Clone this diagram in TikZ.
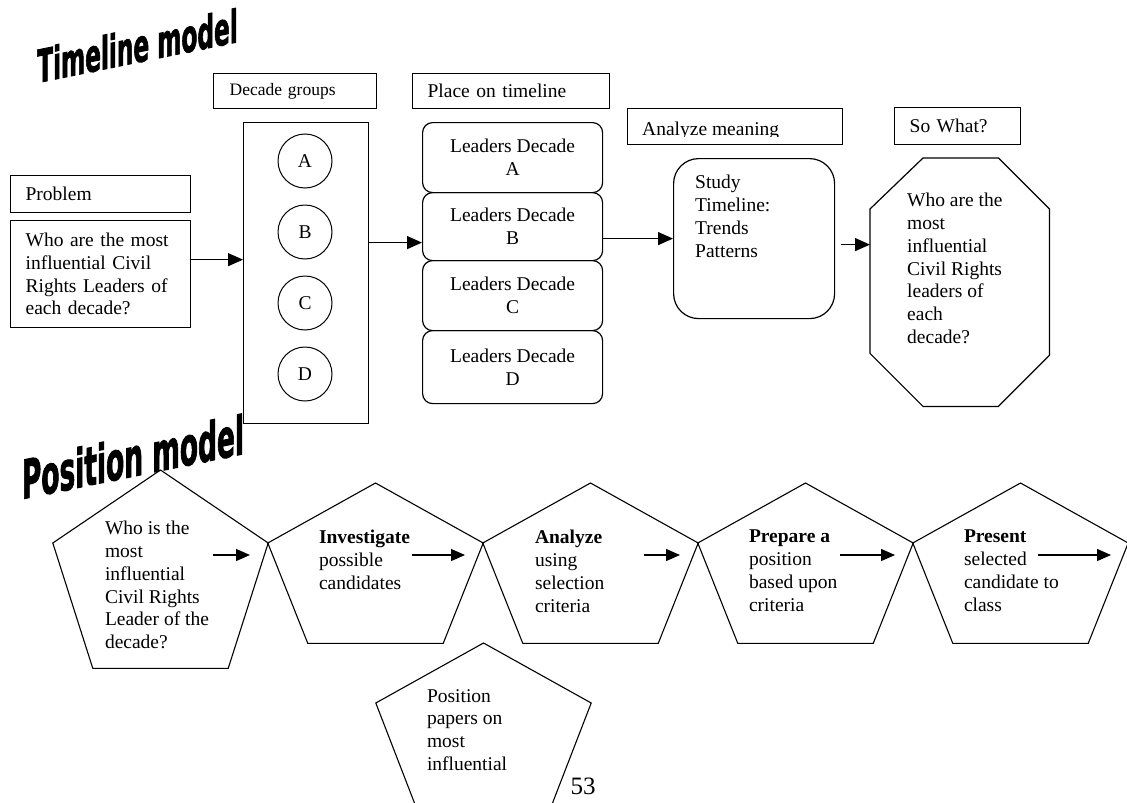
\documentclass[tikz,border=0pt]{standalone}
\usepackage{fontspec}
\setmainfont{Liberation Serif}
\newfontfamily\wordart{DejaVu Sans Condensed}[BoldFeatures={FakeBold=2}]
\usetikzlibrary{arrows.meta,calc}

% outline of a five-sided step: apex, side corners #2 below the apex, flat base
\newcommand{\pentoutline}[2]{%
  \draw[line width=1.1pt] (#1.north) -- ([yshift=-#2pt]#1.north east)
    -- ([xshift=-40pt]#1.south east) -- ([xshift=40pt]#1.south west)
    -- ([yshift=-#2pt]#1.north west) -- cycle;}

\begin{document}
\begin{tikzpicture}[x=1pt,y=-1pt,
  body/.style={font=\fontsize{19.5pt}{22.8pt}\selectfont},
  txt/.style={body,inner sep=0pt,align=left},
  labelbox/.style={draw,line width=1.3pt,body,align=left,inner xsep=15pt,inner ysep=0pt,anchor=north west},
  frame/.style={draw,line width=1.3pt,inner sep=0pt,anchor=north west},
  leader/.style={draw,line width=1.2pt,rounded corners=10pt,minimum width=180pt,inner sep=0pt,anchor=north west,body,align=center},
  letter/.style={draw,circle,line width=1pt,minimum size=54pt,inner sep=0pt,body},
  arr/.style={line width=1.3pt,-{Triangle[length=15pt,width=13pt]}},
  parr/.style={line width=1.3pt,-{Triangle[length=14pt,width=12pt]}},
  pent/.style={inner sep=0pt,minimum width=215pt,minimum height=160pt,anchor=north},
  title/.style={anchor=base,inner sep=0pt,yslant=0.204,transform shape},
]
\fill[white] (0,0) rectangle (1127,803);
\useasboundingbox (0,0) rectangle (1127,803);

% ---------- Timeline model ----------
\node[title,font=\wordart\bfseries\fontsize{45.3pt}{45.3pt}\selectfont] (ttimeline) at (137.5,62.5) {\scalebox{0.57}[1]{Timeline model}};

\node[labelbox,minimum width=180pt,minimum height=37pt,text width=150pt] (lblproblem) at (10,175) {Problem};
\node[labelbox,minimum width=180pt,minimum height=107pt,text width=150pt] (question) at (10,220)
  {Who are the most\\influential Civil\\Rights Leaders of\\each decade?};

\node[labelbox,minimum width=163pt,minimum height=35pt,text width=131pt,inner xsep=16pt,font=\fontsize{17.5pt}{21pt}\selectfont] (lblgroups) at (213,73) {Decade groups};
\node[frame,minimum width=125pt,minimum height=301pt] (groups) at (243,122) {};
\node[letter] (ca) at (305,161) {A};
\node[letter] (cb) at (305,232) {B};
\node[letter] (cc) at (305,303) {C};
\node[letter] (cd) at (305,374) {D};

\node[labelbox,minimum width=197pt,minimum height=35pt,text width=167pt] (lblplace) at (412,73) {Place on timeline};
\node[leader,minimum height=70pt] (lda) at (422,122) {Leaders Decade\\A};
\node[leader,minimum height=68pt] (ldb) at (422,192) {Leaders Decade\\B};
\node[leader,minimum height=70pt] (ldc) at (422,260) {Leaders Decade\\C};
\node[leader,minimum height=73pt] (ldd) at (422,330) {Leaders Decade\\D};

\node[frame,minimum width=215pt,minimum height=36pt] (lblanalyze) at (627,108) {};
\begin{scope}
  \clip ([xshift=1pt,yshift=-1pt]lblanalyze.north west) rectangle ([xshift=-1pt,yshift=9pt]lblanalyze.south east);
  \node[txt,anchor=base west] (analyzetxt) at ([xshift=15pt,yshift=10pt]lblanalyze.south west) {Analyze meaning};
\end{scope}
\node[draw,line width=1.2pt,rounded corners=25pt,minimum width=161pt,minimum height=160pt,anchor=north west,inner sep=0pt] (study) at (673,158) {};
\node[txt,anchor=north west] (studytxt) at ([xshift=22pt,yshift=-17pt]study.north west)
  {Study\\Timeline:\\Trends\\Patterns};

\node[labelbox,minimum width=126pt,minimum height=37pt,text width=96pt] (lblsowhat) at (894,107) {So What?};
\node[inner sep=0pt,minimum width=179pt,minimum height=248pt,anchor=north west] (oct) at (870,158) {};
\draw[line width=1.2pt] ([xshift=53pt]oct.north west) -- ([xshift=-51pt]oct.north east)
  -- ([yshift=-51pt]oct.north east) -- ([yshift=51pt]oct.south east)
  -- ([xshift=-51pt]oct.south east) -- ([xshift=53pt]oct.south west)
  -- ([yshift=53pt]oct.south west) -- ([yshift=-51pt]oct.north west) -- cycle;
\node[txt,anchor=north west] (octtxt) at ([xshift=37pt,yshift=-35pt]oct.north west)
  {Who are the\\most\\influential\\Civil Rights\\leaders of\\each\\decade?};

% connectors
\coordinate (qout) at ([yshift=14.5pt]question.east);
\draw[arr] (qout) -- (qout -| groups.west);
\coordinate (gin) at ([yshift=-16pt]ldb.west);
\draw[arr] (gin -| groups.east) -- (gin);
\draw[arr] (ldb.east |- study.west) -- (study.west);
\coordinate (sout) at ([xshift=6pt,yshift=-6pt]study.east);
\draw[arr] (sout) -- (sout -| oct.west);

% ---------- Position model ----------
\node[title,font=\wordart\bfseries\fontsize{53.5pt}{53.5pt}\selectfont] (tposition) at (133,476.5) {\scalebox{0.55}[1]{Position model}};

\node[pent,minimum height=198pt] (p1) at (160.5,470) {};
\pentoutline{p1}{73}
\node[pent] (p2) at (375.5,483) {};
\pentoutline{p2}{60}
\node[pent] (p3) at (590.5,483) {};
\pentoutline{p3}{60}
\node[pent] (p4) at (805.5,483) {};
\pentoutline{p4}{60}
\node[pent] (p5) at (1020.5,483) {};
\pentoutline{p5}{60}
\node[pent,minimum height=163pt] (p6) at (483.5,643) {};
\pentoutline{p6}{60}

\node[txt,anchor=north west] (t1) at ([xshift=52pt,yshift=-51pt]p1.north west)
  {Who is the\\most\\influential\\Civil Rights\\Leader of the\\decade?};
\node[txt,anchor=north west] (t2) at ([xshift=51pt,yshift=-47pt]p2.north west)
  {\textbf{Investigate}\\possible\\candidates};
\node[txt,anchor=north west] (t3) at ([xshift=52pt,yshift=-47pt]p3.north west)
  {\textbf{Analyze}\\using\\selection\\criteria};
\node[txt,anchor=north west] (t4) at ([xshift=51pt,yshift=-47pt]p4.north west)
  {\textbf{Prepare a}\\position\\based upon\\criteria};
\node[txt,anchor=north west] (t5) at ([xshift=51pt,yshift=-47pt]p5.north west)
  {\textbf{Present}\\selected\\candidate to\\class};
\node[txt,anchor=north west] (t6) at ([xshift=51pt,yshift=-46pt]p6.north west)
  {Position\\papers on\\most\\influential};

\coordinate (a1s) at (213,555); \coordinate (a1e) at (250,555);
\coordinate (a2s) at (412,555); \coordinate (a2e) at (465,555);
\coordinate (a3s) at (644,555); \coordinate (a3e) at (680,555);
\coordinate (a4s) at (840,555); \coordinate (a4e) at (895,555);
\coordinate (a5s) at (1038,555); \coordinate (a5e) at (1111,555);
\draw[parr] (a1s) -- (a1e);
\draw[parr] (a2s) -- (a2e);
\draw[parr] (a3s) -- (a3e);
\draw[parr] (a4s) -- (a4e);
\draw[parr] (a5s) -- (a5e);

\node[font=\fontsize{25pt}{25pt}\selectfont,inner sep=0pt] (pagenum) at (583,786) {53};
\end{tikzpicture}
\end{document}
